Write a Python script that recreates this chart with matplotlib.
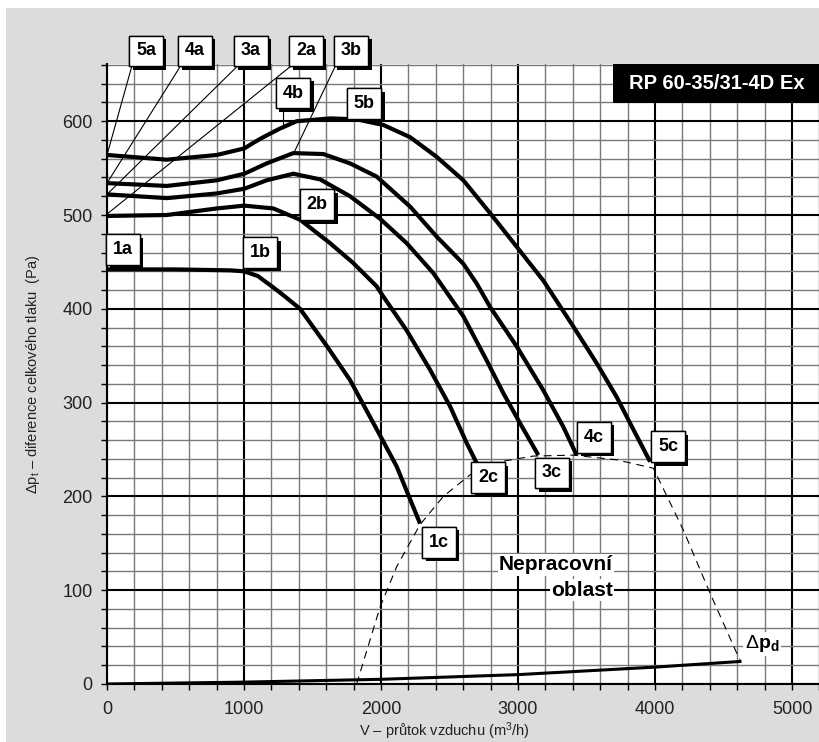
import matplotlib
matplotlib.use('Agg')
import matplotlib.pyplot as plt
import matplotlib.patches as patches
import matplotlib.patheffects as pe
from matplotlib.ticker import MultipleLocator

plt.rcParams['font.family'] = ['Liberation Sans', 'DejaVu Sans']
plt.rcParams['mathtext.fontset'] = 'custom'
plt.rcParams['mathtext.rm'] = 'Liberation Sans'
plt.rcParams['mathtext.bf'] = 'Liberation Sans:bold'
plt.rcParams['mathtext.it'] = 'Liberation Sans:italic'

# Fan curves (V in m3/h, dp in Pa)
c1_x = [0, 500, 900, 1000, 1100, 1212, 1300, 1409, 1606, 1774, 1993, 2114, 2285]
c1_y = [442, 442, 441, 440, 435, 423, 413, 400, 360, 324, 265, 232, 171]

c2_x = [0, 436, 801, 1002, 1214, 1409, 1628, 1796, 1968, 2017, 2187, 2358, 2504, 2625, 2700]
c2_y = [499, 500, 507, 510, 507, 495, 470, 449, 424, 413, 377, 335, 296, 257, 235]

c3_x = [0, 438, 801, 1002, 1165, 1360, 1555, 1774, 1993, 2187, 2382, 2601, 2771, 2893, 3015, 3148]
c3_y = [522, 518, 523, 528, 537, 544, 538, 520, 496, 470, 438, 392, 345, 310, 278, 244]

c4_x = [0, 436, 801, 1002, 1165, 1360, 1579, 1774, 1968, 2212, 2406, 2601, 2698, 2796, 2990, 3185, 3331, 3428]
c4_y = [534, 531, 537, 544, 555, 566, 565, 555, 541, 509, 477, 448, 427, 402, 360, 313, 274, 244]

c5_x = [0, 436, 801, 1002, 1080, 1141, 1260, 1384, 1628, 1822, 2017, 2212, 2406, 2601, 2796,
        3002, 3185, 3404, 3574, 3720, 3818, 3964]
c5_y = [564, 559, 564, 571, 578, 583, 592, 600, 603, 602, 596, 583, 562, 537, 502,
        464, 430, 381, 342, 306, 278, 237]

# limit of the working area (dashed)
lim_x = [1822, 1993, 2114, 2285, 2455, 2650, 2869, 3112, 3404, 3720, 3988, 4207, 4401, 4596, 4620]
lim_y = [0, 82, 125, 170, 200, 223, 237, 243, 244, 239, 230, 164, 97, 33, 26]

# dynamic pressure line
pd_x = [0, 1000, 2000, 3000, 4000, 4620]
pd_y = [0, 2, 5, 10, 18, 24]

# curve labels
label_names = ['5a', '4a', '3a', '2a', '3b', '4b', '5b', '2b', '1a', '1b', '1c', '2c', '3c', '4c', '5c']
label_x = [285, 642, 1051, 1453, 1781, 1358, 1876, 1533, 117, 1117, 2423, 2781, 3248, 3555, 4095]
label_y = [675, 675, 675, 675, 675, 630, 619, 511, 463, 460, 151, 220, 225, 263, 253]

# leader lines from labels to curves
lead_x0 = [180, 533, 947, 1336, 1664, 1282]
lead_y0 = [658, 658, 658, 658, 658, 614]
lead_x1 = [0, 0, 0, 0, 1360, 1282]
lead_y1 = [564, 534, 522, 501, 565, 594]

title = 'RP 60-35/31-4D Ex'

fig = plt.figure(figsize=(8.2, 7.42), dpi=100)
fig.patch.set_facecolor('white')
# gray panel behind the chart
fig.patches.append(patches.Rectangle((6 / 820, 0), 1, 734 / 742, transform=fig.transFigure,
                                     facecolor='#dcdcdc', edgecolor='none', zorder=-5))

ax = fig.add_axes([107 / 820, 58 / 742, 713 / 820, 620 / 742])
ax.set_xlim(0, 5204)
ax.set_ylim(0, 661)
ax.set_facecolor('white')

ax.xaxis.set_major_locator(MultipleLocator(1000))
ax.xaxis.set_minor_locator(MultipleLocator(200))
ax.yaxis.set_major_locator(MultipleLocator(100))
ax.yaxis.set_minor_locator(MultipleLocator(20))
ax.set_axisbelow(True)
ax.grid(which='minor', color='#7a7a7a', lw=1.0)
ax.grid(which='major', color='black', lw=1.5)

for s in ['top', 'right']:
    ax.spines[s].set_visible(False)
ax.spines['left'].set_linewidth(1.5)
ax.spines['bottom'].set_linewidth(1.5)

ax.tick_params(which='both', direction='out', length=4.5, width=1, color='black')
ax.tick_params(axis='x', which='major', labelsize=13, pad=8, labelcolor='#222222')
ax.tick_params(axis='y', which='major', labelsize=13, pad=6, labelcolor='#222222')

ax.set_ylabel('Δp$_\\mathregular{t}$ – diference celkového tlaku  (Pa)', fontsize=10.5, color='#222222')
ax.yaxis.set_label_coords(-0.091, 0.5)
ax.set_xlabel('V – průtok vzduchu (m$^\\mathregular{3}$/h)', fontsize=10.5, color='#222222')
ax.xaxis.set_label_coords(0.473, -0.058)

# curves
for cx, cy in [(c1_x, c1_y), (c2_x, c2_y), (c3_x, c3_y), (c4_x, c4_y), (c5_x, c5_y)]:
    ax.plot(cx, cy, color='black', lw=3.0, solid_capstyle='butt', solid_joinstyle='round', zorder=4)

ax.plot(pd_x, pd_y, color='black', lw=2.2, zorder=4)
ax.plot(lim_x, lim_y, color='black', lw=0.8, linestyle=(0, (7, 5)), zorder=4)

# leader lines
for x0, y0, x1, y1 in zip(lead_x0, lead_y0, lead_x1, lead_y1):
    ax.plot([x0, x1], [y0, y1], color='black', lw=0.8, zorder=5, clip_on=False)

# label boxes with drop shadow
for name, x, y in zip(label_names, label_x, label_y):
    t = ax.text(x, y, name, ha='center', va='center', fontsize=13, fontweight='bold',
                bbox=dict(boxstyle='square,pad=0.38', fc='white', ec='black', lw=1),
                zorder=7, clip_on=False)
    t.get_bbox_patch().set_path_effects([
        pe.withSimplePatchShadow(offset=(2.5, -2.5), shadow_rgbFace='black', alpha=1),
        pe.Normal()])

# model title box
ax.add_patch(patches.Rectangle((0.71, 0.937), 0.29, 0.063, transform=ax.transAxes,
                               facecolor='black', edgecolor='none', zorder=6, clip_on=False))
ax.text(0.855, 0.969, title, transform=ax.transAxes, ha='center', va='center',
        fontsize=14.5, fontweight='bold', color='white', zorder=7)

# non-working area
ax.text(3693, 127, 'Nepracovní', ha='right', va='center', fontsize=15, fontweight='bold',
        bbox=dict(fc='white', ec='none', pad=1), zorder=6)
ax.text(3693, 100, 'oblast', ha='right', va='center', fontsize=15, fontweight='bold',
        bbox=dict(fc='white', ec='none', pad=1), zorder=6)

ax.text(4781, 43, r'$\Delta\mathbf{p}_\mathbf{d}$', ha='center', va='center', fontsize=14,
        bbox=dict(fc='white', ec='none', pad=1), zorder=6)

fig.savefig('out.png', dpi=100, facecolor=fig.get_facecolor())
